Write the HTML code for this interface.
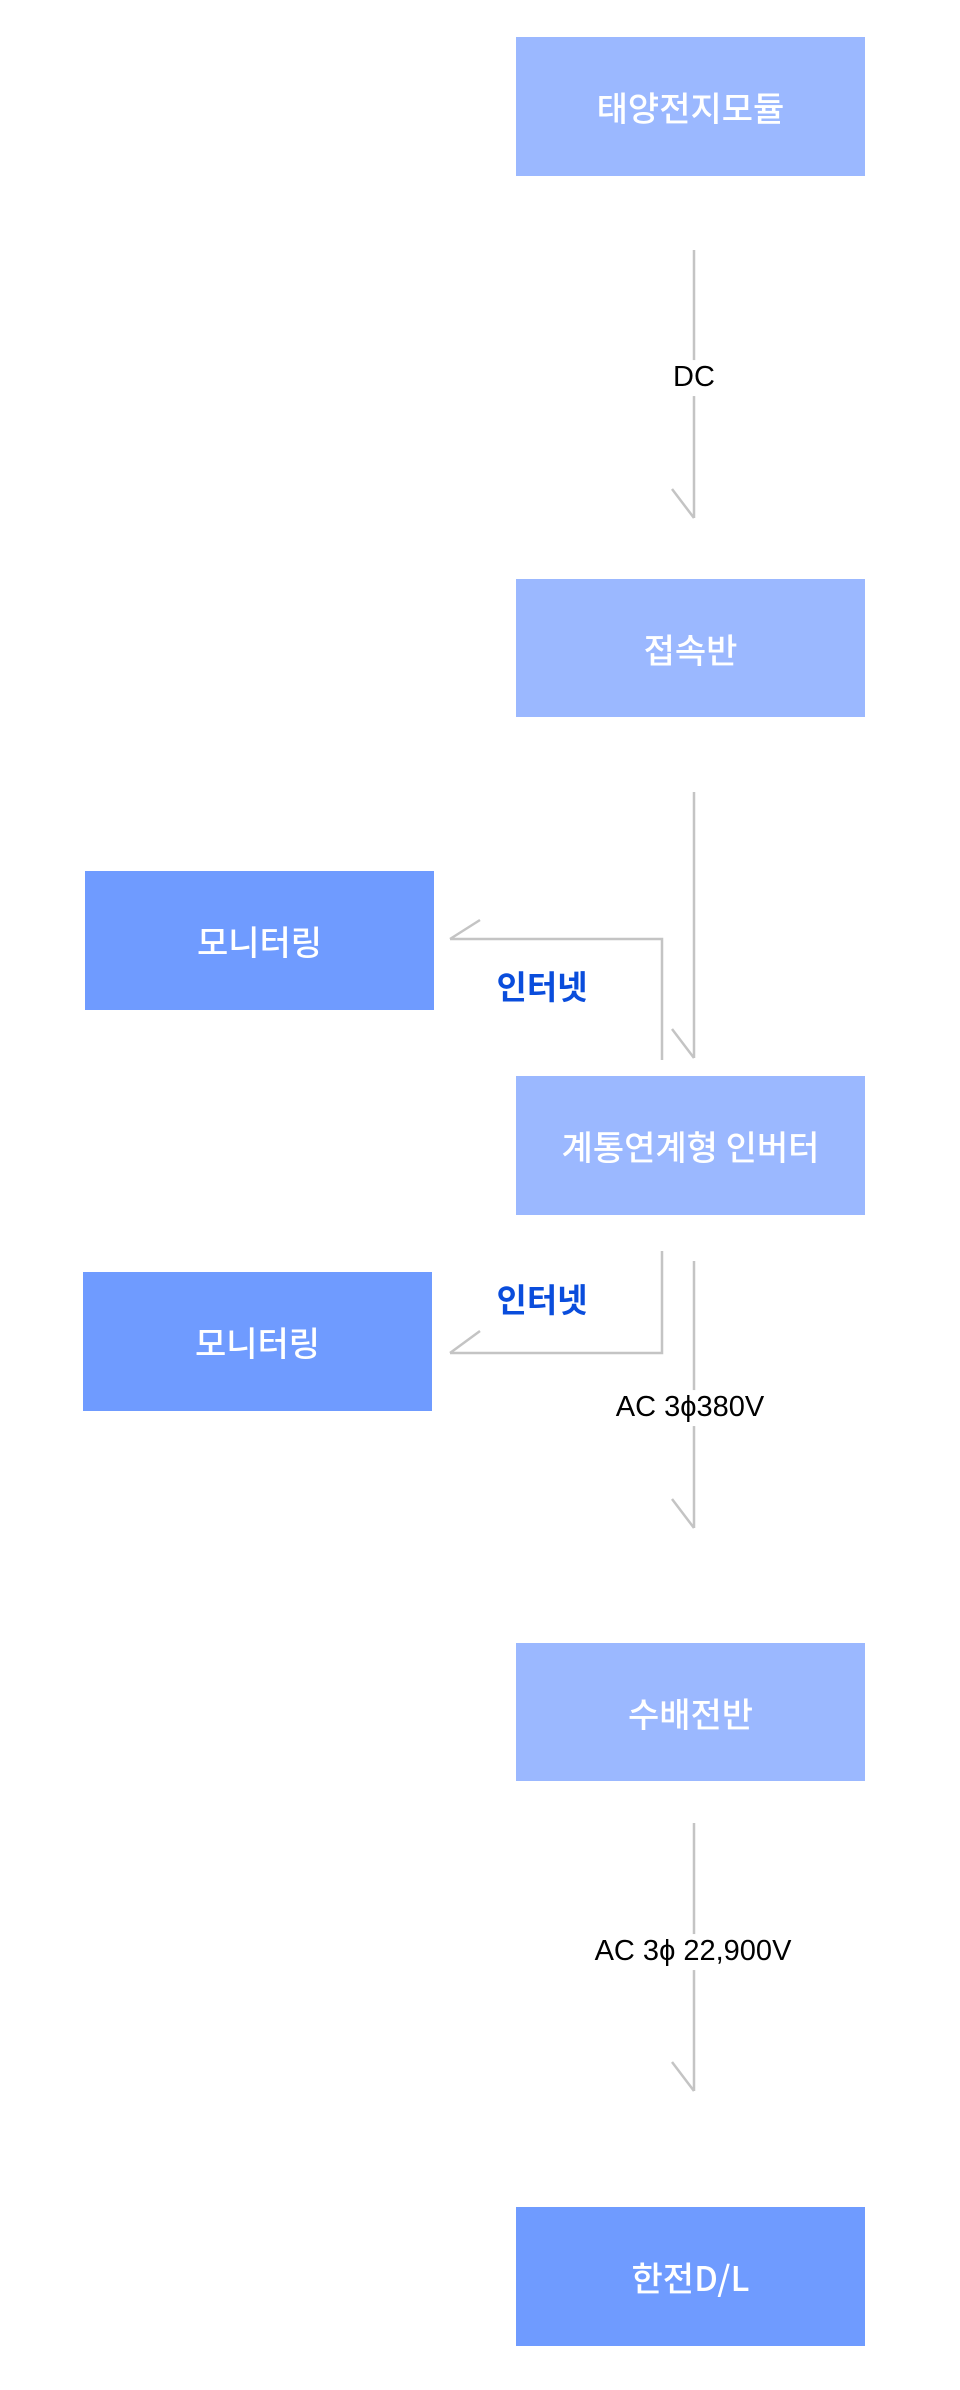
<!DOCTYPE html>
<html><head><meta charset="utf-8"><style>
html,body{margin:0;padding:0;background:#fff;}
body{width:960px;height:2390px;position:relative;overflow:hidden;font-family:"Liberation Sans","Noto Sans CJK KR",sans-serif;}
.b{position:absolute;display:flex;align-items:center;justify-content:center;color:#fff;font-size:34px;font-weight:500;font-family:"Noto Sans CJK KR","Liberation Sans",sans-serif;}
.l{background:#9bb8ff}.d{background:#6f9bff}
.t{position:absolute;transform:translate(-50%,-50%);background:#fff;white-space:nowrap;font-size:29px;color:#000;line-height:1.1;padding:2px 0;}
.n{position:absolute;transform:translate(-50%,-50%);white-space:nowrap;font-size:33px;font-weight:bold;color:#0a4ddc;font-family:"Noto Sans CJK KR",sans-serif;}
svg{position:absolute;left:0;top:0}
</style></head><body>
<svg width="960" height="2390" fill="none" stroke="#c4c4c4" stroke-width="2.5">
<path d="M694 250V518M672 489L694 518"/>
<path d="M694 792V1058M672 1029L694 1058"/>
<path d="M662 1060V939H450M480 920L450 939"/>
<path d="M662 1251V1353H450M480 1331L450 1353"/>
<path d="M694 1261V1528M672 1499L694 1528"/>
<path d="M694 1823V2091M672 2062L694 2091"/>
</svg>
<div class="b l" style="left:516px;top:37px;width:349px;height:139px">태양전지모듈</div>
<div class="b l" style="left:516px;top:579px;width:349px;height:138px">접속반</div>
<div class="b l" style="left:516px;top:1076px;width:349px;height:139px">계통연계형 인버터</div>
<div class="b l" style="left:516px;top:1643px;width:349px;height:138px">수배전반</div>
<div class="b d" style="left:516px;top:2207px;width:349px;height:139px">한전D/L</div>
<div class="b d" style="left:85px;top:871px;width:349px;height:139px">모니터링</div>
<div class="b d" style="left:83px;top:1272px;width:349px;height:139px">모니터링</div>
<div class="t" style="left:694px;top:378px">DC</div>
<div class="t" style="left:690px;top:1408px">AC 3ϕ380V</div>
<div class="t" style="left:693px;top:1952px">AC 3ϕ 22,900V</div>
<div class="n" style="left:542px;top:985px">인터넷</div>
<div class="n" style="left:542px;top:1298px">인터넷</div>
</body></html>
